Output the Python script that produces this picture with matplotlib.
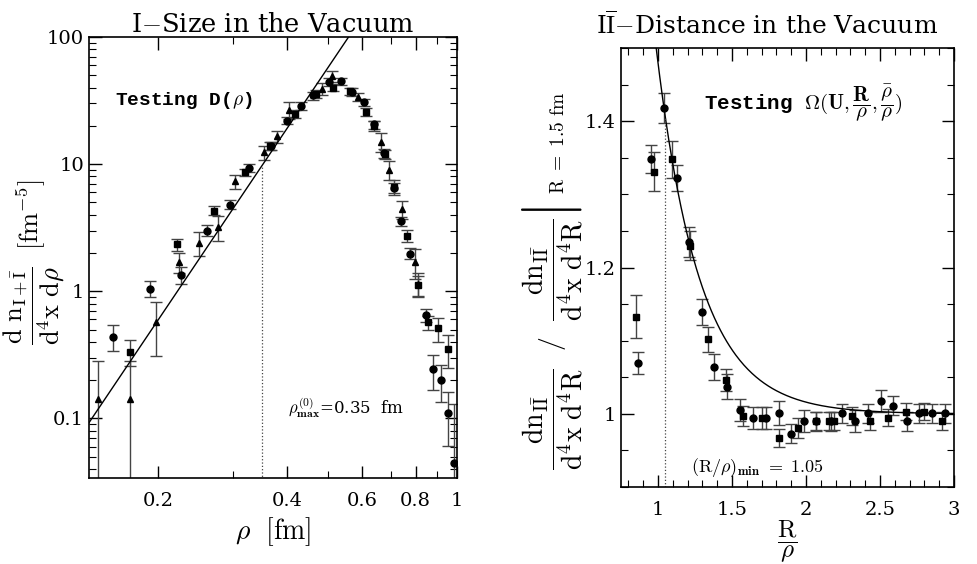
import numpy as np
import matplotlib
matplotlib.use("Agg")
import matplotlib.pyplot as plt
from matplotlib.ticker import FixedLocator, NullFormatter, MultipleLocator, FixedFormatter

plt.rcParams["font.family"] = "DejaVu Serif"
plt.rcParams["mathtext.fontset"] = "cm"

# ---- left panel: instanton size distribution ----
rho_circ = [0.157, 0.192, 0.226, 0.261, 0.295, 0.327, 0.367, 0.400, 0.433, 0.460, 0.502, 0.535,
            0.568, 0.606, 0.639, 0.675, 0.712, 0.741, 0.778, 0.846, 0.877, 0.915, 0.950, 0.984]
dens_circ = [0.44, 1.05, 1.34, 3.0, 4.8, 9.4, 14.0, 22.0, 28.6, 34.7, 44.2, 44.8,
             37.0, 30.8, 20.5, 12.2, 6.5, 3.56, 1.98, 0.65, 0.243, 0.199, 0.111, 0.0445]
err_circ = [0.10, 0.15, 0.2, 0.3, 0.4, 0.7, 1.0, 1.5, 2.0, 2.5, 3.0, 3.0,
            2.5, 2.0, 1.5, 1.0, 0.6, 0.3, 0.2, 0.08, 0.075, 0.065, 0.05, 0.085]

rho_sq = [0.172, 0.222, 0.270, 0.320, 0.365, 0.417, 0.468, 0.513, 0.562, 0.614, 0.641, 0.677,
          0.714, 0.764, 0.810, 0.855, 0.905, 0.951]
dens_sq = [0.335, 2.34, 4.3, 8.6, 13.9, 24.9, 35.8, 39.9, 37.4, 25.7, 20.0, 12.0,
           6.6, 2.72, 1.12, 0.57, 0.51, 0.35]
err_sq = [0.075, 0.25, 0.35, 0.6, 1.0, 1.8, 2.5, 2.5, 2.5, 2.0, 1.8, 1.0,
          0.9, 0.3, 0.2, 0.07, 0.11, 0.1]

rho_tri = [0.145, 0.172, 0.198, 0.224, 0.250, 0.276, 0.302, 0.354, 0.380, 0.405, 0.483, 0.510,
           0.588, 0.665, 0.693, 0.744, 0.796, 0.812]
dens_tri = [0.143, 0.143, 0.57, 1.70, 2.4, 3.2, 7.3, 12.4, 16.5, 26.6, 39.2, 49.0,
            33.7, 15.0, 9.0, 4.4, 1.70, 1.15]
err_tri = [0.14, 0.14, 0.26, 0.3, 0.5, 0.7, 0.9, 1.6, 1.8, 4.0, 4.0, 5.0,
           2.5, 2.5, 1.5, 0.7, 0.45, 0.25]

# power law fit D(rho) = amp * rho^power
fit_amp = 1850.0
fit_power = 5.0
rho_max = 0.35

# ---- right panel: I-Ibar distance distribution ----
r_circ = [0.867, 0.951, 1.041, 1.126, 1.213, 1.299, 1.380, 1.468, 1.556, 1.642, 1.729, 1.815,
          1.901, 1.989, 2.070, 2.170, 2.245, 2.331, 2.417, 2.505, 2.590, 2.680, 2.764, 2.851, 2.939]
ratio_circ = [1.070, 1.348, 1.418, 1.322, 1.235, 1.139, 1.064, 1.037, 1.005, 0.994, 0.994, 1.001,
              0.973, 0.990, 0.990, 0.990, 1.001, 0.990, 1.001, 1.017, 1.011, 0.990, 1.001, 1.001, 1.001]
rerr_circ = [0.015, 0.019, 0.020, 0.018, 0.020, 0.018, 0.018, 0.017, 0.015, 0.015, 0.015, 0.016,
             0.013, 0.015, 0.013, 0.013, 0.013, 0.015, 0.013, 0.015, 0.013, 0.013, 0.013, 0.013, 0.013]

r_sq = [0.851, 0.975, 1.097, 1.219, 1.336, 1.457, 1.576, 1.700, 1.819, 1.944, 2.068, 2.157,
        2.190, 2.313, 2.432, 2.556, 2.674, 2.797, 2.919]
ratio_sq = [1.133, 1.331, 1.348, 1.230, 1.102, 1.046, 0.997, 0.994, 0.967, 0.981, 0.990, 0.990,
            0.990, 0.997, 0.990, 0.995, 1.003, 1.003, 0.990]
rerr_sq = [0.030, 0.027, 0.025, 0.020, 0.017, 0.015, 0.014, 0.015, 0.012, 0.014, 0.012, 0.012,
           0.012, 0.012, 0.012, 0.012, 0.012, 0.012, 0.012]

# interaction curve 1 + amp * exp(-slope (R/rho - 1))
omega_amp = 0.48
omega_slope = 3.4
r_min = 1.05

fig = plt.figure(figsize=(9.77, 5.64), dpi=100)
ax1 = fig.add_axes([0.0911, 0.1525, 0.3767, 0.782])
ax2 = fig.add_axes([0.6356, 0.1365, 0.3408, 0.7784])

eb = dict(ls="none", color="black", ecolor="#444444", elinewidth=1.0, capsize=4, capthick=1.0)

# left panel
ax1.errorbar(rho_circ, dens_circ, yerr=err_circ, fmt="o", ms=5, **eb)
ax1.errorbar(rho_sq, dens_sq, yerr=err_sq, fmt="s", ms=4.5, **eb)
ax1.errorbar(rho_tri, dens_tri, yerr=err_tri, fmt="^", ms=4.5, **eb)

rr = np.linspace(0.13, 0.6, 200)
ax1.plot(rr, fit_amp * rr ** fit_power, color="black", lw=1.0)
ax1.plot([rho_max, rho_max], [0.01, fit_amp * rho_max ** fit_power], color="#444444", lw=0.9, ls=":")

ax1.set_xscale("log")
ax1.set_yscale("log")
ax1.set_xlim(0.138, 1.0)
ax1.set_ylim(0.034, 100)
ax1.xaxis.set_major_locator(FixedLocator([0.2, 0.4, 0.6, 0.8, 1.0]))
ax1.xaxis.set_major_formatter(FixedFormatter(["0.2", "0.4", "0.6", "0.8", "1"]))
ax1.xaxis.set_minor_locator(FixedLocator([0.3, 0.5, 0.7, 0.9]))
ax1.xaxis.set_minor_formatter(NullFormatter())
ax1.yaxis.set_major_locator(FixedLocator([0.1, 1, 10, 100]))
ax1.yaxis.set_major_formatter(FixedFormatter(["0.1", "1", "10", "100"]))
ax1.yaxis.set_minor_locator(FixedLocator([m * 10.0 ** e for e in (-2, -1, 0, 1) for m in range(2, 10)]))
ax1.yaxis.set_minor_formatter(NullFormatter())

ax1.set_title(r"I$-$Size in the Vacuum", fontsize=18.5, pad=3)
ax1.set_xlabel(r"$\rho\ \ [\mathrm{fm}]$", fontsize=20, labelpad=4)
ax1.set_ylabel(r"$\dfrac{\mathrm{d\ n}_{\mathrm{I+\bar{I}}}}{\mathrm{d^4x\ d}\rho}\ \ [\mathrm{fm}^{-5}]$",
               fontsize=19)
ax1.yaxis.set_label_coords(-0.06, 0.49)
ax1.text(0.07, 0.845, r"Testing D($\mathbf{\rho}$)", transform=ax1.transAxes, fontsize=14,
         fontweight="bold", family="Liberation Mono")
ax1.text(0.54, 0.145, r"$\rho^{\mathbf{(0)}}_{\mathbf{max}}$=0.35  fm", transform=ax1.transAxes, fontsize=12)

# right panel
ax2.errorbar(r_circ, ratio_circ, yerr=rerr_circ, fmt="o", ms=5, **eb)
ax2.errorbar(r_sq, ratio_sq, yerr=rerr_sq, fmt="s", ms=4.5, **eb)

xx = np.linspace(0.95, 3.0, 300)
ax2.plot(xx, 1 + omega_amp * np.exp(-omega_slope * (xx - 1)), color="black", lw=1.0)
ax2.plot([r_min, r_min], [0.8, 1 + omega_amp * np.exp(-omega_slope * (r_min - 1))],
         color="#444444", lw=0.9, ls=":")

ax2.set_xlim(0.75, 3.0)
ax2.set_ylim(0.9, 1.5)
ax2.xaxis.set_major_locator(FixedLocator([1, 1.5, 2, 2.5, 3]))
ax2.xaxis.set_major_formatter(FixedFormatter(["1", "1.5", "2", "2.5", "3"]))
ax2.xaxis.set_minor_locator(MultipleLocator(0.1))
ax2.yaxis.set_major_locator(FixedLocator([1.0, 1.2, 1.4]))
ax2.yaxis.set_major_formatter(FixedFormatter(["1", "1.2", "1.4"]))
ax2.yaxis.set_minor_locator(MultipleLocator(0.05))

ax2.set_title(r"I$\overline{\mathrm{I}}$$-$Distance in the Vacuum", fontsize=18, pad=10, x=0.44)
ax2.set_xlabel(r"$\dfrac{\mathrm{R}}{\rho}$", fontsize=18, labelpad=0)
ax2.set_ylabel(r"$\dfrac{\mathrm{dn}_{\mathrm{I\bar{I}}}}{\mathrm{d^4x\ d^4R}}\ \ /\ \ "
               r"\left.\dfrac{\mathrm{dn}_{\mathrm{I\bar{I}}}}{\mathrm{d^4x\ d^4R}}\right|_{\ \mathrm{R\ =\ 1.5\ fm}}$",
               fontsize=20)
ax2.yaxis.set_label_coords(-0.11, 0.47)
ax2.text(0.25, 0.875, r"Testing $\Omega(\mathbf{U},\dfrac{\mathbf{R}}{\rho},\dfrac{\bar{\rho}}{\rho})$",
         transform=ax2.transAxes, fontsize=15, fontweight="bold", family="Liberation Mono",
         va="center")
ax2.text(0.21, 0.035, r"$(\mathrm{R}/\rho)_{\mathbf{min}}\ =\ 1.05$", transform=ax2.transAxes, fontsize=13)

for ax in (ax1, ax2):
    ax.tick_params(which="both", direction="in", top=True, right=True, labelsize=14)
    ax.tick_params(which="major", length=9, width=1.0)
    ax.tick_params(which="minor", length=5, width=0.8)
    ax.tick_params(axis="x", pad=10)
    for s in ax.spines.values():
        s.set_linewidth(1.2)

fig.savefig("out.png", dpi=100)
